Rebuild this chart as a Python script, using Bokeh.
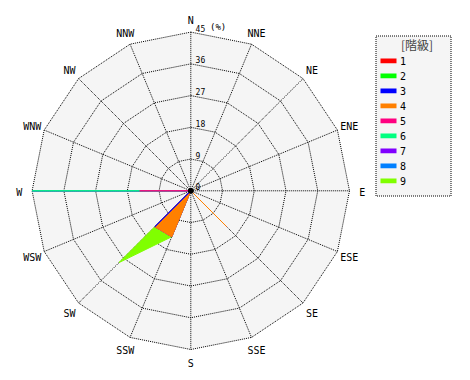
import numpy as np
from bokeh.plotting import figure
from bokeh.models import Range1d
from bokeh.core.properties import value
from bokeh.embed import file_html
from bokeh.resources import INLINE

# ---- data ----
directions = ["N", "NNE", "NE", "ENE", "E", "ESE", "SE", "SSE",
              "S", "SSW", "SW", "WSW", "W", "WNW", "NW", "NNW"]
class_names = ["1", "2", "3", "4", "5", "6", "7", "8", "9"]
class_colors = ["#FF0000", "#00FF00", "#0000FF", "#FF8000", "#FF0080",
                "#00FF80", "#8000FF", "#0080FF", "#80FF00"]
#                N  NNE NE ENE E  ESE  SE  SSE S  SSW   SW  WSW  W   WNW NW NNW
class1 = [0, 0, 0, 0, 0, 0, 0, 0, 0, 0, 0, 0, 0, 0, 0, 0]
class2 = [0, 0, 0, 0, 0, 0, 0, 0, 0, 0, 0, 0, 0, 0, 0, 0]
class3 = [0, 0, 0, 0, 0, 0, 0, 0, 0, 0, 14.4, 0, 0, 0, 0, 0]
class4 = [0, 0, 0, 0, 0, 0, 14.3, 0, 0, 14.1, 0, 0, 0, 0, 0, 0]
class5 = [0, 0, 0, 0, 0, 0, 0, 0, 0, 0, 0, 0, 14.5, 0, 0, 0]
class6 = [0, 0, 0, 0, 0, 0, 0, 0, 0, 0, 0, 0, 30.5, 0, 0, 0]
class7 = [0, 0, 0, 0, 0, 0, 0, 0, 0, 0, 0, 0, 0, 0, 0, 0]
class8 = [0, 0, 0, 0, 0, 0, 0, 0, 0, 0, 0, 0, 0, 0, 0, 0]
class9 = [0, 0, 0, 0, 0, 0, 0, 0, 0, 0, 14.4, 0, 0, 0, 0, 0]
ring_values = [9, 18, 27, 36, 45]
tick_values = [0, 9, 18, 27, 36, 45]
tick_labels = ["0", "9", "18", "27", "36", "45"]
unit_label = "(%)"
legend_title = "[階級]"

classes = [class1, class2, class3, class4, class5, class6, class7, class8, class9]

# ---- geometry (pixel layout helpers) ----
W, H = 470, 380
cx, cy = 190.3, 190.3
rmax = max(ring_values)
kpx = 158.7 / rmax  # pixels per percent


def pxd(px, py):
    return (px - cx) / kpx, (cy - py) / kpx


p = figure(width=W, height=H, output_backend="svg", toolbar_location=None,
           x_axis_type=None, y_axis_type=None, min_border=0,
           x_range=Range1d(-cx / kpx, (W - cx) / kpx),
           y_range=Range1d(-(H - cy) / kpx, cy / kpx))
p.outline_line_color = None
p.grid.visible = False
p.background_fill_color = "white"
p.border_fill_color = "white"

theta = np.arange(len(directions)) * 2 * np.pi / len(directions)
sx, cyv = np.sin(theta), np.cos(theta)

# background polygon
p.patch(list(rmax * sx), list(rmax * cyv), fill_color="#F5F5F5", line_color=None)

# rings
rx = [list(np.append(r * sx, r * sx[0])) for r in ring_values]
ry = [list(np.append(r * cyv, r * cyv[0])) for r in ring_values]
p.multi_line(rx, ry, line_color="black", line_width=1, line_dash="1 1")
# spokes
p.segment(x0=[0] * len(directions), y0=[0] * len(directions),
          x1=list(rmax * sx), y1=list(rmax * cyv),
          line_color="black", line_width=1, line_dash="1 1")

# stacked polygons, drawn from outermost class to innermost
cum = np.cumsum(np.array(classes, dtype=float), axis=0)
for i in range(len(classes) - 1, -1, -1):
    r = np.minimum(cum[i], rmax)
    if r.max() <= 0:
        continue
    p.patch(list(r * sx), list(r * cyv), fill_color=class_colors[i],
            line_color=class_colors[i], line_width=1)

# center dot
p.scatter([0], [0], size=5, color="black")

mono = value("DejaVu Sans Mono")

# tick labels
p.text(x=[4.8 / kpx] * len(tick_values), y=[t + 4.0 / kpx for t in tick_values],
       text=tick_labels, text_font=mono, text_font_size="8px",
       text_align="left", text_baseline="middle", text_color="black")
ux, uy = pxd(209.5, 26.5)
p.text(x=[ux], y=[uy], text=[unit_label], text_font=mono, text_font_size="9px",
       text_align="left", text_baseline="middle", text_color="black")

# direction labels
rl = 171.5 / kpx
p.text(x=list(rl * sx), y=list(rl * cyv - 1.2 / kpx), text=directions,
       text_font=mono, text_font_size="10px", text_align="center",
       text_baseline="middle", text_color="black")

# legend box
lx0, ly0 = pxd(375.5, 35.5)
lx1, ly1 = pxd(450.5, 195.5)
p.quad(left=[lx0], right=[lx1], top=[ly0], bottom=[ly1], fill_color="#F5F5F5",
       line_color="black", line_width=1, line_dash="1 1")
tx, ty = pxd(416.5, 44)
p.text(x=[tx], y=[ty], text=[legend_title], text_font=value("Noto Sans CJK JP"),
       text_font_size="12px", text_align="center", text_baseline="middle",
       text_color="#444444")
n = len(class_names)
sw_l, _ = pxd(380, 0)
sw_r, _ = pxd(396, 0)
lab_x, _ = pxd(399.5, 0)
rows_y = [pxd(0, 60.3 + 15 * j)[1] for j in range(n)]
p.quad(left=[sw_l] * n, right=[sw_r] * n,
       top=[y + 2.4 / kpx for y in rows_y], bottom=[y - 2.4 / kpx for y in rows_y],
       fill_color=class_colors, line_color=None)
p.text(x=[lab_x] * n, y=rows_y, text=class_names, text_font=mono,
       text_font_size="10px", text_align="left", text_baseline="middle",
       text_color="black")

open("out.html", "w").write(file_html(p, INLINE))
